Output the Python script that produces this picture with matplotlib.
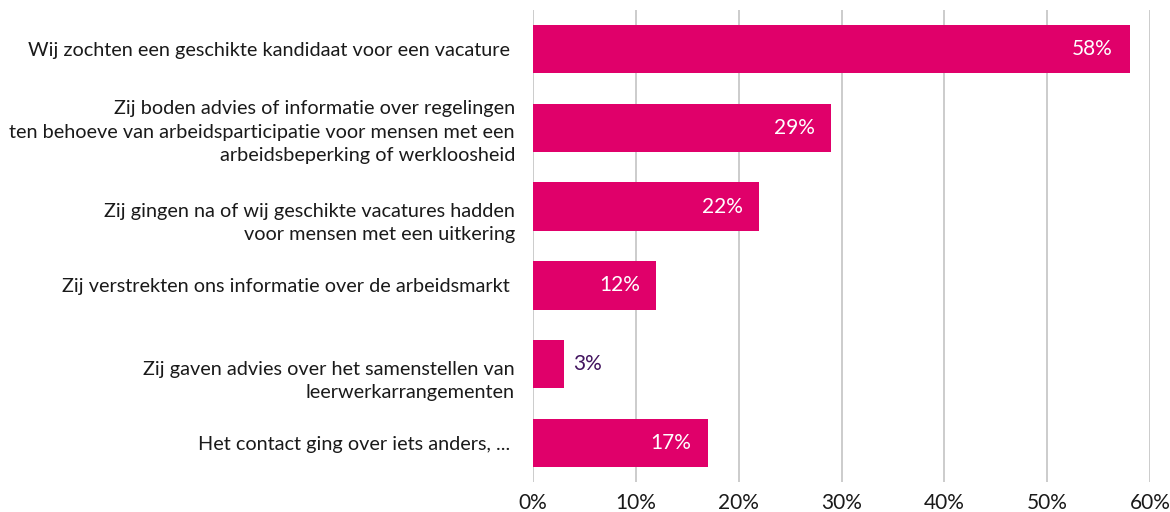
import matplotlib.pyplot as plt
import matplotlib.transforms as mtransforms
from matplotlib.ticker import FuncFormatter

categories = [
    "Wij zochten een geschikte kandidaat voor een vacature ",
    "Zij boden advies of informatie over regelingen\nten behoeve van arbeidsparticipatie voor mensen met een\narbeidsbeperking of werkloosheid",
    "Zij gingen na of wij geschikte vacatures hadden\nvoor mensen met een uitkering",
    "Zij verstrekten ons informatie over de arbeidsmarkt ",
    "Zij gaven advies over het samenstellen van\nleerwerkarrangementen",
    "Het contact ging over iets anders, ... ",
]
values = [58, 29, 22, 12, 3, 17]
xticks = [0, 10, 20, 30, 40, 50, 60]

BAR = "#e0006a"
PURPLE = "#42145f"
GRID = "#c8c8c8"
TEXT = "#1a1a1a"

plt.rcParams['font.family'] = ['Lato', 'DejaVu Sans']

fig = plt.figure(figsize=(11.7, 5.12), dpi=100)
ax = fig.add_axes([0.4556, 0.0586, 0.5274, 0.9219])

pos = list(range(len(categories)))
ax.barh(pos, values, height=0.61, color=BAR, zorder=3)

for p, v in zip(pos, values):
    if v >= 8:
        ax.annotate(f"{v}%", (v, p), xytext=(-12, 0), textcoords="offset points",
                    ha="right", va="center", color="white", fontsize=15, zorder=4)
    else:
        ax.annotate(f"{v}%", (v, p), xytext=(7, 0), textcoords="offset points",
                    ha="left", va="center", color=PURPLE, fontsize=15, zorder=4)

ax.set_xlim(0, 60)
ax.set_ylim(5.49, -0.49)
ax.set_xticks(xticks)
ax.xaxis.set_major_formatter(FuncFormatter(lambda x, _: f"{x:.0f}%"))
ax.set_yticks(pos)
ax.set_yticklabels(categories, fontsize=14.3, color=TEXT, linespacing=1.45)
ax.tick_params(axis="y", length=0, pad=13)
ax.tick_params(axis="x", length=0, pad=8, labelsize=15, labelcolor=TEXT)

# two-line labels sit a bit lower in the original
for i, lab in enumerate(ax.get_yticklabels()):
    if categories[i].count("\n") == 1:
        off = mtransforms.ScaledTranslation(0, -12 / 100, fig.dpi_scale_trans)
        lab.set_transform(lab.get_transform() + off)

ax.grid(axis="x", color=GRID, linewidth=1.3, zorder=0)
for s in ax.spines.values():
    s.set_visible(False)

fig.savefig("out.png", dpi=100)
